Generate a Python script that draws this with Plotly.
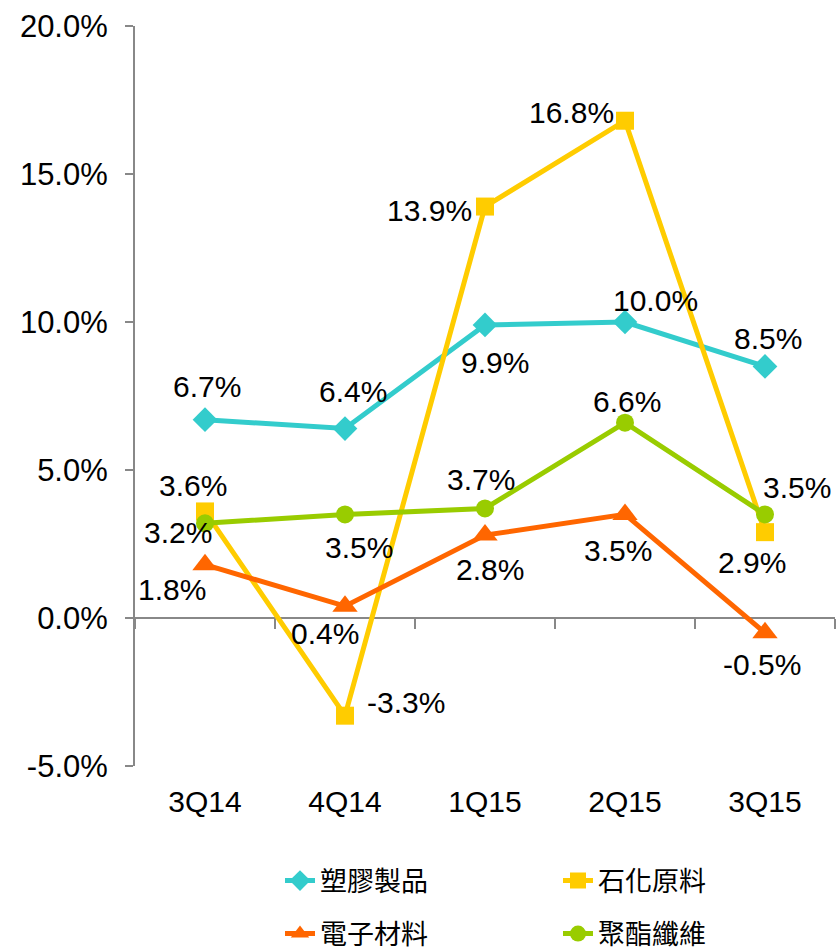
import plotly.graph_objects as go

categories = ["3Q14", "4Q14", "1Q15", "2Q15", "3Q15"]
series_names = ["塑膠製品", "石化原料", "電子材料", "聚酯纖維"]
plastics = [6.7, 6.4, 9.9, 10.0, 8.5]
petrochem = [3.6, -3.3, 13.9, 16.8, 2.9]
electronic = [1.8, 0.4, 2.8, 3.5, -0.5]
polyester = [3.2, 3.5, 3.7, 6.6, 3.5]
y_ticks = [-5, 0, 5, 10, 15, 20]
y_tick_labels = [f"{t:.1f}%" for t in y_ticks]

# styling
colors = ["#33CCCC", "#FFCC00", "#FF6600", "#99CC00"]
symbols = ["diamond", "square", "triangle-up", "circle"]
msizes = [19, 18, 22, 18]
legends = ["legend", "legend", "legend2", "legend2"]
# label offsets (px, dx right, dy down) per series per point
offsets = [
    [(2, -33), (8, -37), (10, 38), (30, -22), (3, -28)],
    [(-12, -26), (61, -13), (-56, 4), (-54, -8), (-13, 30)],
    [(-33, 25), (-20, 27), (5, 34), (-7, 36), (-3, 32)],
    [(-27, 9), (14, 33), (-4, -29), (2, -21), (32, -27)],
]

values = [plastics, petrochem, electronic, polyester]
num_font = "Liberation Sans, Arial, sans-serif"

fig = go.Figure()
for name, vals, c, s, ms, lg in zip(series_names, values, colors, symbols, msizes, legends):
    fig.add_trace(go.Scatter(
        x=categories, y=vals, name=name, mode="lines+markers",
        line=dict(color=c, width=5),
        marker=dict(color=c, symbol=s, size=ms),
        legend=lg, hoverinfo="skip",
    ))

# invisible trace for bottom category labels
fig.add_trace(go.Scatter(x=categories, y=[None] * len(categories), xaxis="x2",
                         showlegend=False, hoverinfo="skip", mode="markers",
                         marker=dict(opacity=0)))

annotations = []
for vals, offs in zip(values, offsets):
    for cat, v, (dx, dy) in zip(categories, vals, offs):
        annotations.append(dict(
            x=cat, y=v, xref="x", yref="y", text=f"{v:.1f}%", showarrow=False,
            xshift=dx, yshift=-dy, font=dict(size=30, color="black", family=num_font),
            xanchor="center", yanchor="middle",
        ))

axis_col = "#888888"
leg_font = dict(size=27, color="black", family="Noto Sans CJK TC")
fig.update_layout(
    width=838, height=952,
    margin=dict(l=135, r=3, t=26, b=186),
    paper_bgcolor="white", plot_bgcolor="white",
    showlegend=True,
    xaxis=dict(type="category", range=[-0.5, 4.5], anchor="free", position=0.2,
               showline=True, linecolor=axis_col, linewidth=2,
               ticks="outside", tickson="boundaries", ticklen=10, tickcolor=axis_col, tickwidth=2,
               showticklabels=False, showgrid=False, zeroline=False, layer="below traces"),
    xaxis2=dict(type="category", range=[-0.5, 4.5], overlaying="x", anchor="y", side="bottom",
                showline=False, ticks="", showgrid=False, zeroline=False,
                tickfont=dict(size=30, color="black", family=num_font), ticklabelstandoff=15),
    yaxis=dict(range=[-5, 20], tickvals=y_ticks, ticktext=y_tick_labels,
               showline=True, linecolor=axis_col, linewidth=2,
               ticks="outside", ticklen=8, tickcolor=axis_col, tickwidth=2,
               showgrid=False, zeroline=False, layer="below traces",
               tickfont=dict(size=31, color="black", family=num_font), ticklabelstandoff=11),
    legend=dict(orientation="h", xref="container", yref="container", x=280 / 838, y=1 - 881 / 952,
                xanchor="left", yanchor="middle", entrywidth=233, entrywidthmode="pixels",
                font=leg_font, bgcolor="rgba(0,0,0,0)"),
    legend2=dict(orientation="h", xref="container", yref="container", x=280 / 838, y=1 - 934 / 952,
                 xanchor="left", yanchor="middle", entrywidth=233, entrywidthmode="pixels",
                 font=leg_font, bgcolor="rgba(0,0,0,0)"),
    annotations=annotations,
)

fig.write_html("out.html")
